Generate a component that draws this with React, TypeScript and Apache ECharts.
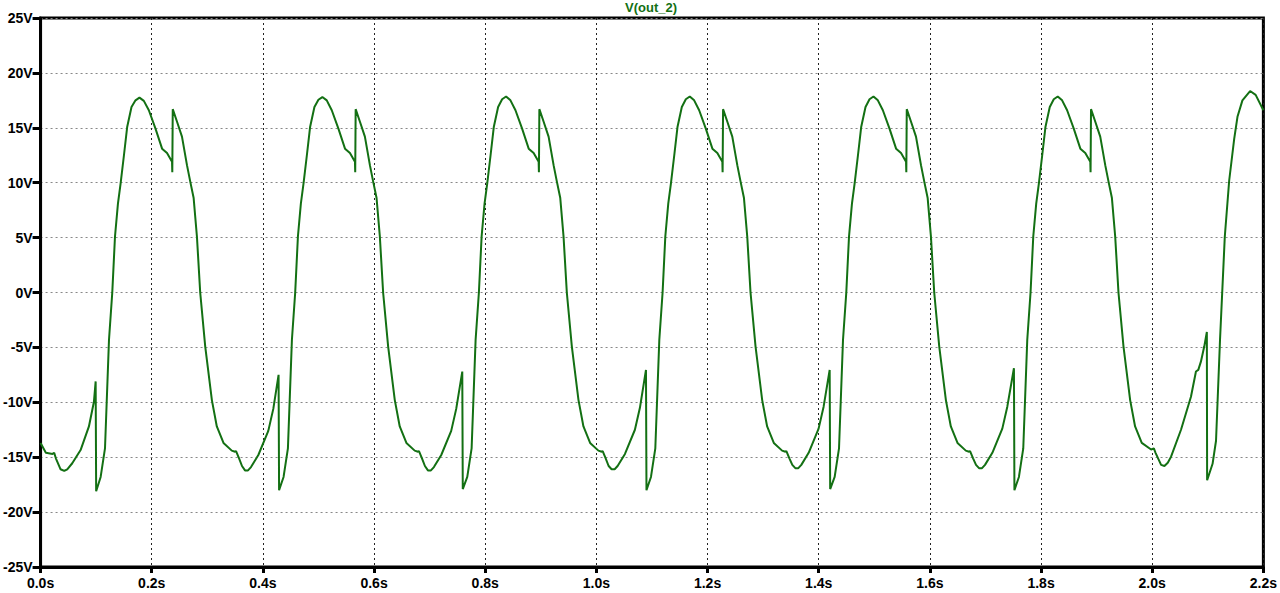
import React, { useEffect, useRef } from "react";
import * as echarts from "echarts";

// Trace V(out_2): [time (s), voltage (V)]
const leadIn: [number, number][] = [
  [0.0, -13.7], [0.0095, -14.6], [0.0215, -14.7], [0.0245, -14.6], [0.0275, -15.1],
  [0.036, -16.1], [0.0425, -16.25], [0.048, -16.1], [0.057, -15.55], [0.072, -14.35],
  [0.087, -12.2], [0.096, -9.95],
];

const cycle1: [number, number][] = [
  [0.0991, -8.1], [0.1, -18.1], [0.1081, -16.8], [0.1159, -14.2], [0.1231, -4.3],
  [0.129, 0], [0.1339, 5.1], [0.1392, 8.1], [0.1439, 9.9], [0.15, 12.5],
  [0.1559, 15.1], [0.1636, 16.9], [0.1708, 17.5], [0.1779, 17.75], [0.1858, 17.45],
  [0.1948, 16.6], [0.2066, 14.95], [0.2186, 13.1], [0.2275, 12.7], [0.2365, 11.9],
  [0.237, 10.95], [0.2378, 16.7], [0.2455, 15.55], [0.2544, 14.2], [0.2634, 11.6],
  [0.2693, 10.1], [0.2754, 8.6], [0.2813, 5.1], [0.2872, 0], [0.2962, -4.9],
  [0.3082, -9.8], [0.3171, -12.2], [0.3291, -13.7], [0.344, -14.4], [0.3499, -14.5],
  [0.3517, -14.45], [0.3571, -15.1], [0.3624, -15.8], [0.3678, -16.2], [0.3732, -16.2],
  [0.3786, -15.9], [0.3918, -14.8], [0.4097, -12.6], [0.4187, -10.6],
];

const cycle2: [number, number][] = [
  [0.4282, -7.5], [0.4291, -18.0], [0.4372, -16.8], [0.445, -14.2], [0.4522, -4.3],
  [0.4581, 0], [0.463, 5.1], [0.4683, 8.1], [0.473, 9.9], [0.4791, 12.5],
  [0.485, 15.1], [0.4927, 16.9], [0.4999, 17.55], [0.507, 17.8], [0.5149, 17.5],
  [0.5239, 16.6], [0.5357, 14.95], [0.5477, 13.1], [0.5566, 12.7], [0.5656, 11.9],
  [0.5661, 10.95], [0.5669, 16.7], [0.5746, 15.55], [0.5835, 14.2], [0.5925, 11.6],
  [0.5984, 10.1], [0.6045, 8.6], [0.6104, 5.1], [0.6163, 0], [0.6253, -4.9],
  [0.6373, -9.8], [0.6462, -12.2], [0.6582, -13.7], [0.6731, -14.4], [0.679, -14.5],
  [0.6808, -14.45], [0.6862, -15.1], [0.6915, -15.8], [0.6969, -16.2], [0.7023, -16.2],
  [0.7077, -15.9], [0.7209, -14.8], [0.7388, -12.6], [0.7478, -10.6],
];

const cycle3: [number, number][] = [
  [0.7587, -7.2], [0.7596, -17.9], [0.7677, -16.8], [0.7755, -14.2], [0.7827, -4.3],
  [0.7886, 0], [0.7935, 5.1], [0.7988, 8.1], [0.8035, 9.9], [0.8096, 12.5],
  [0.8155, 15.1], [0.8232, 16.9], [0.8304, 17.6], [0.8375, 17.85], [0.8454, 17.5],
  [0.8544, 16.6], [0.8662, 14.95], [0.8782, 13.1], [0.8871, 12.7], [0.8961, 11.9],
  [0.8966, 10.95], [0.8974, 16.7], [0.9051, 15.55], [0.914, 14.2], [0.923, 11.6],
  [0.9289, 10.1], [0.935, 8.6], [0.9409, 5.1], [0.9468, 0], [0.9558, -4.9],
  [0.9678, -9.8], [0.9767, -12.2], [0.9887, -13.7], [1.0036, -14.4], [1.0095, -14.5],
  [1.0113, -14.45], [1.0167, -15.1], [1.022, -15.8], [1.0274, -16.1], [1.0328, -16.1],
  [1.0382, -15.8], [1.0514, -14.7], [1.0693, -12.5], [1.0783, -10.5],
];

const cycle4: [number, number][] = [
  [1.0892, -7.05], [1.0901, -18.0], [1.0982, -16.8], [1.106, -14.2], [1.1132, -4.3],
  [1.1191, 0], [1.124, 5.1], [1.1293, 8.1], [1.134, 9.9], [1.1401, 12.5],
  [1.146, 15.1], [1.1537, 16.9], [1.1609, 17.6], [1.168, 17.85], [1.1759, 17.5],
  [1.1849, 16.6], [1.1967, 14.95], [1.2087, 13.1], [1.2176, 12.7], [1.2266, 11.9],
  [1.2271, 10.95], [1.2279, 16.7], [1.2356, 15.55], [1.2445, 14.2], [1.2535, 11.6],
  [1.2594, 10.1], [1.2655, 8.6], [1.2714, 5.1], [1.2773, 0], [1.2863, -4.9],
  [1.2983, -9.8], [1.3072, -12.2], [1.3192, -13.7], [1.3341, -14.4], [1.34, -14.5],
  [1.3418, -14.45], [1.3472, -15.1], [1.3525, -15.7], [1.3579, -16.0], [1.3633, -16.0],
  [1.3687, -15.7], [1.3819, -14.6], [1.3998, -12.4], [1.4088, -10.4],
];

const cycle5: [number, number][] = [
  [1.4197, -7.05], [1.4206, -17.9], [1.4287, -16.8], [1.4365, -14.2], [1.4437, -4.3],
  [1.4496, 0], [1.4545, 5.1], [1.4598, 8.1], [1.4645, 9.9], [1.4706, 12.5],
  [1.4765, 15.1], [1.4842, 16.9], [1.4914, 17.6], [1.4985, 17.85], [1.5064, 17.5],
  [1.5154, 16.6], [1.5272, 14.95], [1.5392, 13.1], [1.5481, 12.7], [1.5571, 11.9],
  [1.5576, 10.95], [1.5584, 16.7], [1.5661, 15.55], [1.575, 14.2], [1.584, 11.6],
  [1.5899, 10.1], [1.596, 8.6], [1.6019, 5.1], [1.6078, 0], [1.6168, -4.9],
  [1.6288, -9.8], [1.6377, -12.2], [1.6497, -13.7], [1.6646, -14.4], [1.6705, -14.5],
  [1.6723, -14.45], [1.6777, -15.1], [1.683, -15.7], [1.6884, -16.0], [1.6938, -16.0],
  [1.6992, -15.7], [1.7124, -14.6], [1.7303, -12.4], [1.7393, -10.4],
];

const cycle6: [number, number][] = [
  [1.7512, -6.9], [1.7521, -18.0], [1.7602, -16.8], [1.768, -14.2], [1.7752, -4.3],
  [1.7811, 0], [1.786, 5.1], [1.7913, 8.1], [1.796, 9.9], [1.8021, 12.5],
  [1.808, 15.1], [1.8157, 16.9], [1.8229, 17.6], [1.83, 17.85], [1.8379, 17.5],
  [1.8469, 16.6], [1.8587, 14.95], [1.8707, 13.1], [1.8796, 12.7], [1.8886, 11.9],
  [1.8891, 10.95], [1.8899, 16.7], [1.8976, 15.55], [1.9065, 14.2], [1.9155, 11.6],
  [1.9214, 10.1], [1.9275, 8.6], [1.9334, 5.1], [1.9393, 0], [1.9483, -4.9],
  [1.9603, -9.8], [1.9692, -12.2], [1.9812, -13.7],
];

const tail: [number, number][] = [
  [1.998, -14.3], [2.003, -14.2], [2.006, -14.6], [2.016, -15.7], [2.022, -15.8],
  [2.028, -15.5], [2.0339, -14.95], [2.0518, -12.5], [2.0697, -9.5], [2.0787, -7.2],
  [2.0829, -7.05], [2.0876, -6.3], [2.0937, -4.9], [2.0983, -3.6], [2.0988, -17.1],
  [2.1086, -15.6], [2.1148, -13.5], [2.122, -4.3], [2.1306, 5.1], [2.1385, 10.2],
  [2.1475, 14.0], [2.1534, 16.0], [2.1623, 17.5], [2.1761, 18.35], [2.1861, 18.0],
  [2.2, 16.6],
];

const traceName = "V(out_2)";
const traceColor = "#137013";

export default function App() {
  const ref = useRef<HTMLDivElement>(null);
  useEffect(() => {
    if (!ref.current) return;
    const chart = echarts.init(ref.current, undefined, { renderer: "svg" });
    const trace = [
      ...leadIn, ...cycle1, ...cycle2, ...cycle3, ...cycle4, ...cycle5, ...cycle6, ...tail,
    ];
    const font = "'Liberation Sans', Arial, sans-serif";
    chart.setOption({
      animation: false,
      backgroundColor: "#ffffff",
      graphic: [
        {
          type: "text",
          x: 651,
          y: 1,
          style: {
            text: traceName,
            fill: traceColor,
            font: `bold 13px ${font}`,
            textAlign: "center",
            textVerticalAlign: "top",
          },
        },
      ],
      grid: {
        left: 38,
        right: 14,
        top: 18,
        bottom: 26,
        show: true,
        borderColor: "#000",
        borderWidth: 3,
        backgroundColor: "transparent",
      },
      xAxis: {
        type: "value",
        min: 0,
        max: 2.2,
        interval: 0.2,
        axisLine: { show: true, onZero: false, lineStyle: { color: "#000", width: 3 } },
        axisTick: { show: true, length: 6, lineStyle: { color: "#000", width: 3 } },
        axisLabel: {
          color: "#000",
          fontFamily: font,
          fontWeight: "bold",
          fontSize: 14,
          margin: 9,
          formatter: (v: number) => v.toFixed(1) + "s",
        },
        splitLine: { show: true, lineStyle: { color: "#222", type: [2, 3], width: 1 } },
      },
      yAxis: {
        type: "value",
        min: -25,
        max: 25,
        interval: 5,
        axisLine: { show: true, onZero: false, lineStyle: { color: "#000", width: 3 } },
        axisTick: { show: true, length: 8, lineStyle: { color: "#000", width: 3 } },
        axisLabel: {
          color: "#000",
          fontFamily: font,
          fontWeight: "bold",
          fontSize: 14,
          margin: 8,
          formatter: (v: number) => v + "V",
        },
        splitLine: { show: true, lineStyle: { color: "#888", type: [2, 3], width: 1 } },
      },
      series: [
        {
          name: traceName,
          type: "line",
          data: trace,
          showSymbol: false,
          symbol: "none",
          lineStyle: { color: traceColor, width: 2 },
          clip: true,
        },
      ],
    });
    return () => chart.dispose();
  }, []);
  return (
    <div
      ref={ref}
      style={{ position: "absolute", left: 0, top: 0, width: 1280, height: 593, background: "#fff" }}
    />
  );
}
